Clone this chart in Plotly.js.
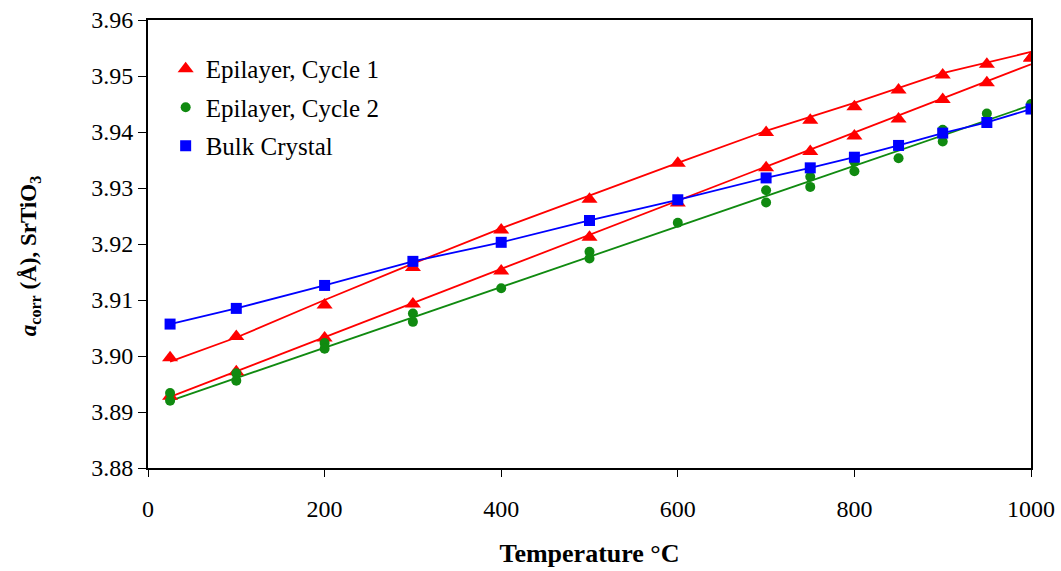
<!DOCTYPE html>
<html>
<head>
<meta charset="utf-8">
<script src="https://cdn.plot.ly/plotly-3.0.1.min.js"></script>
<style>html,body{margin:0;padding:0;background:#fff;}#chart{width:1061px;height:571px;}</style>
</head>
<body>
<div id="chart"></div>
<script>
// Temperatures (°C)
const temps = [25, 100, 200, 300, 400, 500, 600, 700, 750, 800, 850, 900, 950, 1000];

// Epilayer, Cycle 1 (two branches)
const cycle1UpperY = [3.8997, 3.9035, 3.9091, 3.9158, 3.9225, 3.9280, 3.9344, 3.9399, 3.9421, 3.9445, 3.9475, 3.9502, 3.9521, 3.9532];
const cycle1LowerY = [3.8928, 3.8972, 3.9032, 3.9093, 3.9152, 3.9212, 3.9273, 3.9336, 3.9365, 3.9393, 3.9423, 3.9458, 3.9488, 3.9532];

// Epilayer, Cycle 2
const cycle2X = [25, 25, 100, 100, 200, 200, 300, 300, 400, 500, 500, 600, 700, 700, 750, 750, 800, 800, 850, 900, 900, 950, 1000];
const cycle2Y = [3.8934, 3.8920, 3.8969, 3.8956, 3.9023, 3.9013, 3.9076, 3.9061, 3.9121, 3.9186, 3.9174, 3.9238, 3.9296, 3.9274, 3.9320, 3.9302, 3.9347, 3.9330, 3.9353, 3.9404, 3.9383, 3.9433, 3.9450];

// Bulk Crystal
const bulkY = [3.9057, 3.9085, 3.9126, 3.9169, 3.9203, 3.9242, 3.9279, 3.9318, 3.9336, 3.9355, 3.9376, 3.9398, 3.9417, 3.9441];

// Fit lines
const fit1UpperX = [25, 100, 200, 300, 400, 500, 600, 700, 800, 900, 1000];
const fit1UpperY = [3.8990, 3.9033, 3.9100, 3.9165, 3.9228, 3.9287, 3.9345, 3.9402, 3.9452, 3.9505, 3.9543];
const fit1LowerX = [25, 1000];
const fit1LowerY = [3.8927, 3.9521];
const fit2X = [25, 1000];
const fit2Y = [3.8920, 3.9448];

const yTitle = '<b><i>a</i></b><b><sub>corr</sub> (Å), SrTiO<sub>3</sub></b>';
const xTitle = '<b>Temperature °C</b>';

const RED = '#ff0000', GREEN = '#108a10', BLUE = '#0000ff';
const SERIF = 'Liberation Serif, Times New Roman, serif';

const traces = [
  {x: fit1UpperX, y: fit1UpperY, mode: 'lines', line: {color: RED, width: 1.8}, showlegend: false, hoverinfo: 'skip'},
  {x: fit1LowerX, y: fit1LowerY, mode: 'lines', line: {color: RED, width: 1.8}, showlegend: false, hoverinfo: 'skip'},
  {x: fit2X, y: fit2Y, mode: 'lines', line: {color: GREEN, width: 1.8}, showlegend: false, hoverinfo: 'skip'},
  {x: temps, y: bulkY, mode: 'lines', line: {color: BLUE, width: 1.8}, showlegend: false, hoverinfo: 'skip'},
  {x: temps.concat(temps), y: cycle1UpperY.concat(cycle1LowerY), mode: 'markers', name: 'Epilayer, Cycle 1', legendgroup: 'g1',
   marker: {symbol: 'triangle-up', size: 14, color: RED}},
  {x: cycle2X, y: cycle2Y, mode: 'markers', name: 'Epilayer, Cycle 2', legendgroup: 'g2',
   marker: {symbol: 'circle', size: 10, color: GREEN}},
  {x: temps, y: bulkY, mode: 'markers', name: 'Bulk Crystal', legendgroup: 'g3',
   marker: {symbol: 'square', size: 11, color: BLUE}}
];

const layout = {
  width: 1061, height: 571,
  margin: {l: 148, r: 30, t: 20, b: 103},
  paper_bgcolor: '#fff', plot_bgcolor: '#fff',
  font: {family: SERIF, color: '#000', size: 22},
  showlegend: true,
  legend: {x: 0.02, y: 0.942, xanchor: 'left', yanchor: 'top', bgcolor: 'rgba(0,0,0,0)',
           font: {family: SERIF, size: 25, color: '#000'}, tracegroupgap: 3, itemwidth: 30},
  xaxis: {
    range: [0, 1000], tickvals: [0, 200, 400, 600, 800, 1000], ticktext: ['0', '200', '400', '600', '800', '1000'],
    showgrid: false, zeroline: false, showline: true, mirror: true, linecolor: '#000', linewidth: 2,
    ticks: 'outside', ticklen: 7, tickcolor: '#000', tickwidth: 1, ticklabelstandoff: 11,
    tickfont: {family: SERIF, size: 24},
    title: {text: xTitle, font: {family: SERIF, size: 26}, standoff: 23}
  },
  yaxis: {
    range: [3.88, 3.96], dtick: 0.01, tick0: 3.88, tickformat: '.2f',
    showgrid: false, zeroline: false, showline: true, mirror: true, linecolor: '#000', linewidth: 2,
    ticks: 'outside', ticklen: 8, tickcolor: '#000', tickwidth: 1,
    tickfont: {family: SERIF, size: 24}
  },
  annotations: [{
    text: yTitle, textangle: -90, xref: 'paper', yref: 'paper',
    x: -0.134, y: 0.472, xanchor: 'center', yanchor: 'middle', showarrow: false,
    font: {family: SERIF, size: 23, color: '#000'}
  }]
};

Plotly.newPlot('chart', traces, layout, {displayModeBar: false, staticPlot: true});
</script>
</body>
</html>
